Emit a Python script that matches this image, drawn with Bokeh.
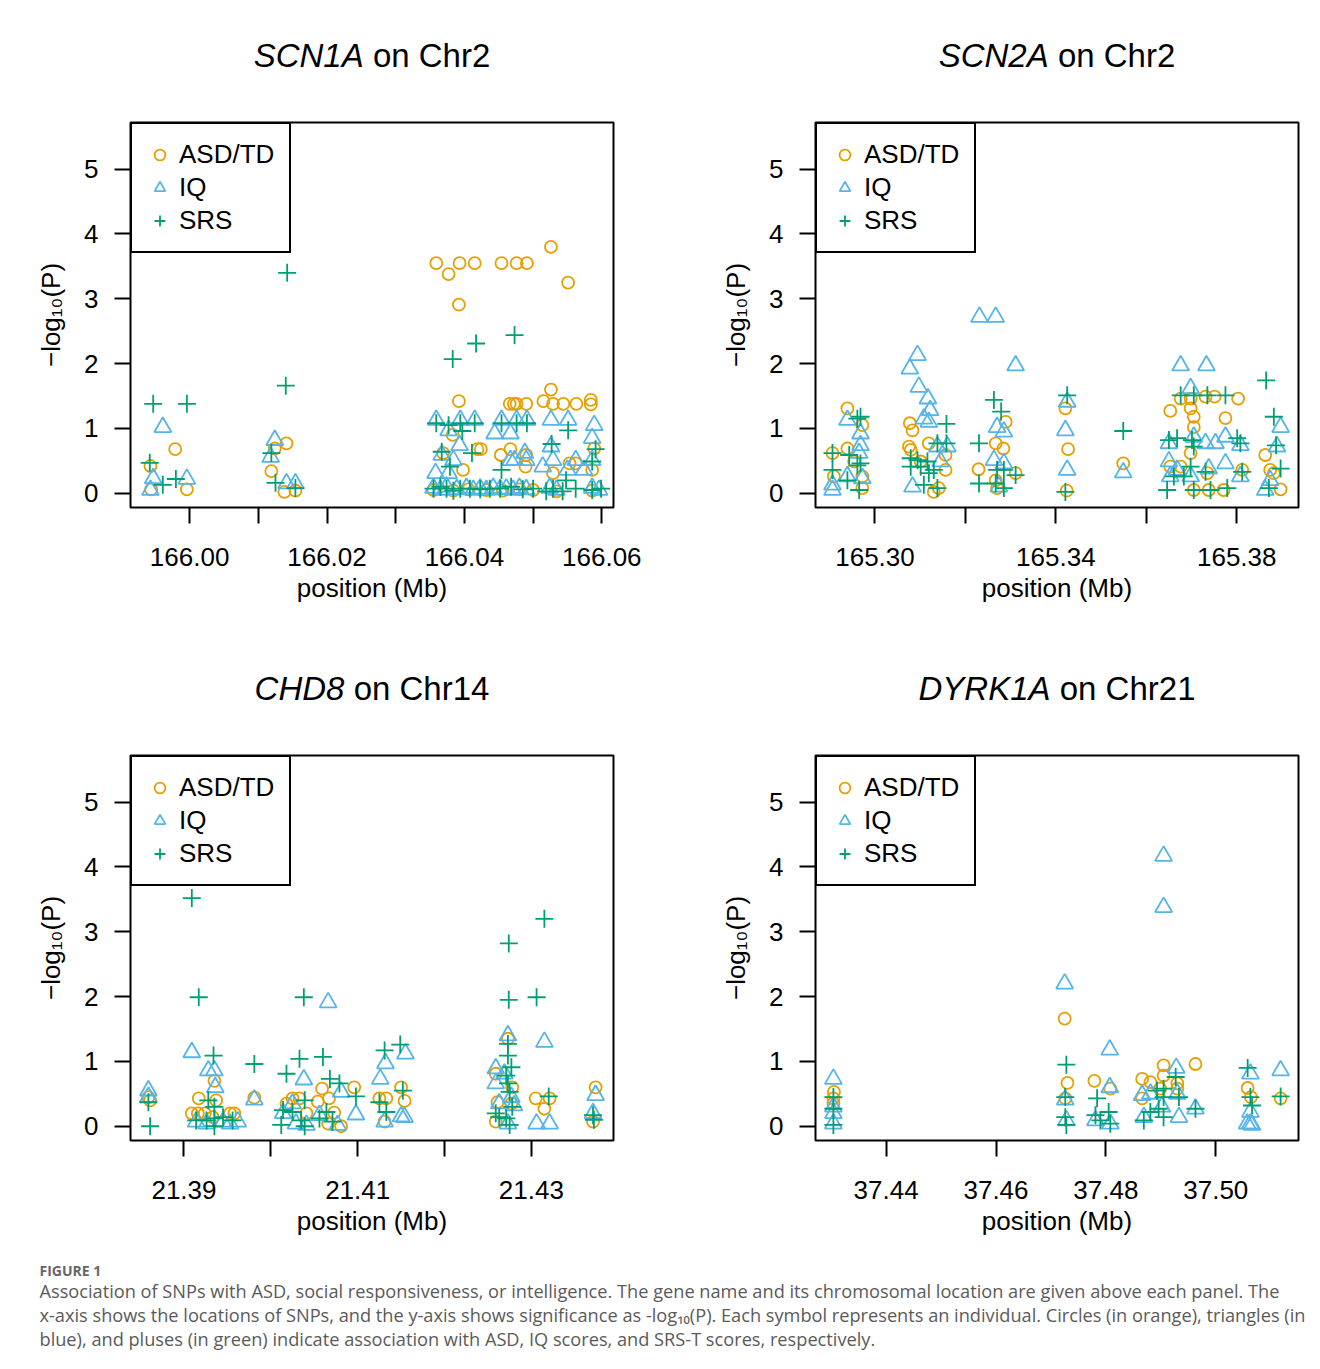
from bokeh.plotting import figure
from bokeh.models import Range1d, FixedTicker, Legend, LegendItem, Label, PrintfTickFormatter
from bokeh.layouts import column, row
from bokeh.embed import file_html
from bokeh.resources import INLINE

ORANGE = "#E69F00"
BLUE = "#56B4E9"
GREEN = "#009E73"
FONT = "Liberation Sans"

LEGEND_LABELS = ["ASD/TD", "IQ", "SRS"]
Y_TICKS = [0, 1, 2, 3, 4, 5]
Y_LIMITS = (0.0, 5.5)

# ---------------- SCN1A (Chr2) ----------------
scn1a_xlim = (165.9940, 166.0591)
scn1a_ticks = [166.00, 166.02, 166.04, 166.06]
scn1a_minor = [166.01, 166.03, 166.05]
scn1a_asd = [
    (165.9943, 0.42), (165.9979, 0.68), (165.9996, 0.06), (165.9944, 0.06),
    (166.0141, 0.77), (166.0119, 0.34), (166.0138, 0.02), (166.0154, 0.04), (166.0124, 0.69),
    (166.0359, 3.55), (166.0377, 3.38), (166.0393, 3.55), (166.0415, 3.55), (166.0454, 3.55),
    (166.0476, 3.55), (166.0491, 3.55), (166.0526, 3.80), (166.0551, 3.25), (166.0392, 2.91),
    (166.0392, 1.42), (166.0526, 1.60),
    (166.0466, 1.38), (166.0472, 1.38), (166.0476, 1.38), (166.0490, 1.38), (166.0515, 1.42),
    (166.0529, 1.38), (166.0544, 1.38), (166.0563, 1.38), (166.0584, 1.44), (166.0584, 1.37),
    (166.0369, 0.62), (166.0383, 0.90), (166.0419, 0.68), (166.0424, 0.68), (166.0453, 0.59),
    (166.0467, 0.68), (166.0490, 0.59), (166.0489, 0.41), (166.0398, 0.36), (166.0553, 0.46),
    (166.0589, 0.69), (166.0586, 0.36), (166.0529, 0.31), (166.0562, 0.46),
    (166.0355, 0.05), (166.0384, 0.04), (166.0406, 0.06), (166.0432, 0.05), (166.0456, 0.04),
    (166.0480, 0.06), (166.0500, 0.05), (166.0534, 0.03), (166.0586, 0.04),
]
scn1a_iq = [
    (165.9961, 1.02), (165.9947, 0.23), (165.9996, 0.22), (165.9943, 0.05),
    (166.0124, 0.82), (166.0118, 0.56), (166.0141, 0.15), (166.0154, 0.15),
    (166.0359, 1.13), (166.0377, 0.97), (166.0394, 1.13), (166.0415, 1.13), (166.0444, 0.92),
    (166.0454, 1.13), (166.0467, 0.92), (166.0476, 1.13), (166.0491, 1.13), (166.0526, 1.13),
    (166.0551, 1.13), (166.0589, 1.05), (166.0586, 0.85), (166.0393, 0.74), (166.0526, 0.72),
    (166.0367, 0.59), (166.0467, 0.51), (166.0473, 0.51), (166.0488, 0.62), (166.0490, 0.51),
    (166.0529, 0.51), (166.0562, 0.51), (166.0514, 0.41), (166.0586, 0.51), (166.0550, 0.36),
    (166.0574, 0.36), (166.0384, 0.51), (166.0358, 0.31), (166.0377, 0.31),
    (166.0355, 0.08), (166.0365, 0.05), (166.0374, 0.10), (166.0389, 0.06), (166.0403, 0.08),
    (166.0413, 0.05), (166.0423, 0.07), (166.0432, 0.05), (166.0442, 0.08), (166.0452, 0.06),
    (166.0461, 0.07), (166.0471, 0.05), (166.0480, 0.08), (166.0490, 0.06), (166.0524, 0.08),
    (166.0534, 0.05), (166.0586, 0.08), (166.0596, 0.05),
]
scn1a_srs = [
    (165.9947, 1.38), (165.9996, 1.38), (165.9942, 0.47), (165.9961, 0.13), (165.9980, 0.22),
    (166.0142, 3.40), (166.0140, 1.66), (166.0119, 0.62), (166.0125, 0.16), (166.0154, 0.08),
    (166.0383, 2.07), (166.0417, 2.31), (166.0473, 2.44),
    (166.0359, 1.08), (166.0377, 1.05), (166.0394, 1.08), (166.0397, 0.96), (166.0415, 1.08),
    (166.0454, 1.08), (166.0476, 1.08), (166.0491, 1.08), (166.0551, 0.97), (166.0411, 0.62),
    (166.0367, 0.64), (166.0527, 0.76), (166.0591, 0.68), (166.0586, 0.49), (166.0379, 0.41),
    (166.0454, 0.36), (166.0548, 0.20),
    (166.0355, 0.07), (166.0365, 0.10), (166.0374, 0.07), (166.0384, 0.04), (166.0394, 0.07),
    (166.0408, 0.07), (166.0423, 0.06), (166.0437, 0.07), (166.0452, 0.07), (166.0468, 0.10),
    (166.0485, 0.06), (166.0500, 0.07), (166.0519, 0.03), (166.0529, 0.07), (166.0543, 0.03),
    (166.0562, 0.07), (166.0586, 0.05), (166.0599, 0.07),
]

# ---------------- SCN2A (Chr2) ----------------
scn2a_xlim = (165.2908, 165.3897)
scn2a_ticks = [165.30, 165.34, 165.38]
scn2a_minor = [165.32, 165.36]
scn2a_asd = [
    (165.2939, 1.31), (165.2972, 1.05), (165.2939, 0.69), (165.2906, 0.62), (165.2909, 0.26),
    (165.2972, 0.26), (165.2954, 0.49), (165.2972, 0.08),
    (165.3077, 1.08), (165.3083, 0.97), (165.3075, 0.72), (165.3079, 0.67), (165.3119, 0.77),
    (165.3156, 0.59), (165.3156, 0.36), (165.3130, 0.02), (165.3141, 0.08), (165.3101, 0.49),
    (165.3289, 1.10), (165.3267, 0.77), (165.3284, 0.69), (165.3229, 0.37), (165.3267, 0.20),
    (165.3270, 0.08), (165.3311, 0.31),
    (165.3421, 1.31), (165.3427, 0.68), (165.3424, 0.04),
    (165.3549, 0.46),
    (165.3653, 1.27), (165.3676, 1.46), (165.3698, 1.46), (165.3731, 1.49), (165.3751, 1.49),
    (165.3803, 1.46), (165.3698, 1.31), (165.3705, 1.18), (165.3705, 1.02), (165.3775, 1.16),
    (165.3698, 0.62), (165.3653, 0.41), (165.3676, 0.41), (165.3735, 0.31), (165.3812, 0.36),
    (165.3705, 0.05), (165.3738, 0.05), (165.3771, 0.05),
    (165.3863, 0.59), (165.3874, 0.36), (165.3897, 0.06), (165.3882, 0.31),
]
scn2a_iq = [
    (165.2939, 1.13), (165.2968, 0.92), (165.2968, 0.74), (165.2965, 0.62), (165.2906, 0.13),
    (165.2906, 0.05), (165.2939, 0.26), (165.2972, 0.23),
    (165.3094, 2.13), (165.3077, 1.92), (165.3097, 1.64), (165.3117, 1.46), (165.3122, 1.28),
    (165.3108, 1.15), (165.3119, 1.10), (165.3083, 0.10), (165.3138, 0.72), (165.3160, 0.72),
    (165.3145, 0.49),
    (165.3231, 2.72), (165.3267, 2.72), (165.3311, 1.97), (165.3270, 1.02), (165.3285, 0.95),
    (165.3263, 0.51), (165.3285, 0.46), (165.3274, 0.10),
    (165.3425, 1.41), (165.3421, 0.97), (165.3425, 0.36),
    (165.3549, 0.32),
    (165.3676, 1.97), (165.3733, 1.97), (165.3698, 1.62), (165.3650, 0.77), (165.3705, 0.87),
    (165.3731, 0.77), (165.3753, 0.77), (165.3775, 0.87), (165.3808, 0.74), (165.3650, 0.49),
    (165.3668, 0.36), (165.3698, 0.26), (165.3738, 0.38), (165.3775, 0.46), (165.3808, 0.26),
    (165.3653, 0.26),
    (165.3897, 1.02), (165.3889, 0.72), (165.3874, 0.20), (165.3863, 0.05),
]
scn2a_srs = [
    (165.2961, 1.15), (165.2968, 1.18), (165.2906, 0.62), (165.2943, 0.59), (165.2906, 0.36),
    (165.2968, 0.46), (165.2939, 0.20), (165.2965, 0.05), (165.2961, 0.43),
    (165.3158, 1.07), (165.3138, 0.77), (165.3158, 0.77), (165.3079, 0.54), (165.3094, 0.51),
    (165.3116, 0.49), (165.3079, 0.41), (165.3101, 0.41), (165.3119, 0.31), (165.3108, 0.13),
    (165.3138, 0.08), (165.3130, 0.36),
    (165.3263, 1.44), (165.3279, 1.26), (165.3230, 0.77), (165.3230, 0.15), (165.3270, 0.36),
    (165.3285, 0.36), (165.3311, 0.28), (165.3267, 0.15), (165.3285, 0.08),
    (165.3425, 1.51), (165.3421, 0.02),
    (165.3549, 0.96),
    (165.3676, 1.51), (165.3705, 1.51), (165.3735, 1.51), (165.3775, 1.51), (165.3650, 0.82),
    (165.3668, 0.85), (165.3701, 0.82), (165.3705, 0.72), (165.3801, 0.85), (165.3808, 0.77),
    (165.3698, 0.41), (165.3661, 0.26), (165.3646, 0.05), (165.3683, 0.26), (165.3731, 0.33),
    (165.3705, 0.05), (165.3742, 0.05), (165.3779, 0.08), (165.3812, 0.33),
    (165.3865, 1.74), (165.3882, 1.18), (165.3887, 0.74), (165.3897, 0.38), (165.3871, 0.08),
]

# ---------------- CHD8 (Chr14) ----------------
chd8_xlim = (21.3859, 21.4374)
chd8_ticks = [21.39, 21.41, 21.43]
chd8_minor = [21.40, 21.42]
chd8_asd = [
    (21.3859, 0.45), (21.3861, 0.40),
    (21.3935, 0.70), (21.3917, 0.43), (21.3909, 0.20), (21.3916, 0.20), (21.3924, 0.20),
    (21.3937, 0.40), (21.3958, 0.20), (21.3953, 0.20), (21.3981, 0.44), (21.3933, 0.14),
    (21.4059, 0.58), (21.4067, 0.43), (21.4096, 0.60), (21.4054, 0.38), (21.4025, 0.43),
    (21.4033, 0.43), (21.4018, 0.35), (21.4041, 0.20), (21.4073, 0.21), (21.4081, 0.00),
    (21.4066, 0.04),
    (21.4125, 0.43), (21.4133, 0.43), (21.4150, 0.60), (21.4154, 0.39), (21.4131, 0.07),
    (21.4273, 1.35), (21.4259, 0.81), (21.4278, 0.60), (21.4261, 0.37), (21.4259, 0.07),
    (21.4277, 0.35),
    (21.4305, 0.43), (21.4315, 0.27), (21.4321, 0.43),
    (21.4374, 0.60), (21.4371, 0.07),
]
chd8_iq = [
    (21.3859, 0.55), (21.3859, 0.45),
    (21.3909, 1.14), (21.3928, 0.86), (21.3935, 0.86), (21.3936, 0.60), (21.3981, 0.41),
    (21.3914, 0.07), (21.3926, 0.04), (21.3945, 0.07), (21.3962, 0.07), (21.3953, 0.04),
    (21.4066, 1.91), (21.4038, 0.72), (21.4081, 0.53), (21.4098, 0.18), (21.4014, 0.20),
    (21.4025, 0.35), (21.4029, 0.04), (21.4041, 0.02), (21.4056, 0.17), (21.4077, 0.02),
    (21.4132, 0.97), (21.4155, 1.12), (21.4126, 0.73), (21.4150, 0.15), (21.4131, 0.07),
    (21.4154, 0.14),
    (21.4273, 1.40), (21.4259, 0.89), (21.4269, 0.81), (21.4259, 0.66), (21.4277, 0.45),
    (21.4280, 0.32), (21.4273, 0.04), (21.4263, 0.35),
    (21.4315, 1.30), (21.4306, 0.04), (21.4321, 0.04),
    (21.4374, 0.48), (21.4371, 0.20),
]
chd8_srs = [
    (21.3859, 0.37), (21.3861, 0.00),
    (21.3909, 3.52), (21.3917, 1.99), (21.3934, 1.09), (21.3981, 0.96), (21.3928, 0.40),
    (21.3935, 0.30), (21.3914, 0.09), (21.3926, 0.09), (21.3935, 0.12), (21.3945, 0.14),
    (21.3956, 0.09), (21.3935, 0.00),
    (21.4038, 1.99), (21.4033, 1.04), (21.4060, 1.07), (21.4018, 0.81), (21.4068, 0.73),
    (21.4079, 0.66), (21.4098, 0.46), (21.4039, 0.40), (21.4014, 0.25), (21.4025, 0.22),
    (21.4064, 0.22), (21.4035, 0.09), (21.4056, 0.12), (21.4012, 0.02), (21.4071, 0.07),
    (21.4039, 0.00),
    (21.4131, 1.17), (21.4149, 1.26), (21.4152, 0.55), (21.4125, 0.37), (21.4133, 0.22),
    (21.4274, 2.82), (21.4274, 1.95), (21.4273, 1.27), (21.4273, 1.09), (21.4277, 0.91),
    (21.4271, 0.78), (21.4273, 0.66), (21.4275, 0.53), (21.4278, 0.30), (21.4263, 0.14),
    (21.4271, 0.12), (21.4275, 0.02), (21.4259, 0.20),
    (21.4315, 3.20), (21.4306, 1.99), (21.4320, 0.46),
    (21.4371, 0.17), (21.4372, 0.10),
]

# ---------------- DYRK1A (Chr21) ----------------
dyrk1a_xlim = (37.4304, 37.5118)
dyrk1a_ticks = [37.44, 37.46, 37.48, 37.50]
dyrk1a_minor = []
dyrk1a_asd = [
    (37.4305, 0.53), (37.4304, 0.43), (37.4304, 0.35),
    (37.4725, 1.66), (37.4730, 0.67), (37.4726, 0.43),
    (37.4779, 0.70), (37.4808, 0.58),
    (37.4866, 0.73), (37.4881, 0.68), (37.4905, 0.94), (37.4905, 0.78), (37.4930, 0.66),
    (37.4930, 0.58), (37.4963, 0.96), (37.4866, 0.43), (37.4899, 0.58),
    (37.5058, 0.59), (37.5064, 0.45), (37.5118, 0.43),
]
dyrk1a_iq = [
    (37.4304, 0.73), (37.4304, 0.30), (37.4304, 0.20), (37.4304, 0.04),
    (37.4725, 2.20), (37.4726, 0.41), (37.4728, 0.09),
    (37.4807, 1.18), (37.4807, 0.60), (37.4781, 0.09), (37.4808, 0.04),
    (37.4905, 4.17), (37.4905, 3.38), (37.4866, 0.48), (37.4881, 0.50), (37.4928, 0.90),
    (37.4930, 0.50), (37.4902, 0.30), (37.4933, 0.14), (37.4963, 0.27), (37.4869, 0.14),
    (37.5063, 0.81), (37.5118, 0.86), (37.5063, 0.22), (37.5063, 0.04), (37.5066, 0.02),
    (37.5057, 0.04),
]
dyrk1a_srs = [
    (37.4304, 0.45), (37.4304, 0.27), (37.4304, 0.02),
    (37.4728, 0.95), (37.4726, 0.45), (37.4726, 0.14), (37.4728, 0.02),
    (37.4784, 0.43), (37.4781, 0.17), (37.4805, 0.22), (37.4808, 0.04), (37.4790, 0.09),
    (37.4927, 0.76), (37.4905, 0.58), (37.4893, 0.55), (37.4933, 0.45), (37.4905, 0.45),
    (37.4881, 0.22), (37.4869, 0.09), (37.4905, 0.14), (37.4896, 0.27), (37.4963, 0.27),
    (37.5058, 0.90), (37.5063, 0.45), (37.5066, 0.32), (37.5118, 0.46),
]

CAPTION_HEAD = "FIGURE 1"
CAPTION_LINES = [
    "Association of SNPs with ASD, social responsiveness, or intelligence. The gene name and its chromosomal location are given above each panel. The",
    "x-axis shows the locations of SNPs, and the y-axis shows significance as -log\u2081\u2080(P). Each symbol represents an individual. Circles (in orange), triangles (in",
    "blue), and pluses (in green) indicate association with ASD, IQ scores, and SRS-T scores, respectively.",
]

PAGE_W = 1312
TITLE_FS = 33
SPACE_EM = 0.278


def pad_range(lo, hi, frac=0.04):
    d = hi - lo
    return lo - frac * d, hi + frac * d


def make_panel(xlim, ticks, minor, asd, iq, srs, width, height, b_left, b_right, b_top, b_bottom):
    x0, x1 = pad_range(*xlim)
    y0, y1 = pad_range(*Y_LIMITS)
    p = figure(width=width, height=height, x_range=Range1d(x0, x1), y_range=Range1d(y0, y1),
               output_backend="svg", toolbar_location=None,
               min_border_left=b_left, min_border_right=b_right,
               min_border_top=b_top, min_border_bottom=b_bottom)
    p.grid.visible = False
    p.outline_line_color = "black"
    p.outline_line_width = 2
    p.outline_line_alpha = 1
    p.background_fill_color = "white"
    p.border_fill_color = "white"

    xa = p.xaxis[0]
    ya = p.yaxis[0]
    xa.ticker = FixedTicker(ticks=ticks, minor_ticks=minor)
    xa.formatter = PrintfTickFormatter(format="%.2f")
    ya.ticker = FixedTicker(ticks=Y_TICKS, minor_ticks=[])
    for ax in (xa, ya):
        ax.axis_line_color = None
        ax.major_tick_out = 16
        ax.major_tick_in = 0
        ax.major_tick_line_width = 2
        ax.major_tick_line_color = "black"
        ax.minor_tick_out = 16
        ax.minor_tick_in = 0
        ax.minor_tick_line_width = 2
        ax.minor_tick_line_color = "black"
        ax.major_label_text_font = FONT
        ax.major_label_text_font_size = "26px"
        ax.major_label_text_color = "black"
        ax.axis_label_text_font = FONT
        ax.axis_label_text_font_size = "26px"
        ax.axis_label_text_font_style = "normal"
        ax.axis_label_text_color = "black"
    xa.axis_label = "position (Mb)"
    ya.axis_label = "\u2212log\u2081\u2080(P)"
    xa.major_label_standoff = 24
    xa.axis_label_standoff = 4
    ya.major_label_standoff = 16
    ya.axis_label_standoff = 15
    ya.major_label_orientation = "horizontal"

    series = [
        (asd, "circle", 12, ORANGE),
        (iq, "triangle", 17, BLUE),
        (srs, "cross", 18, GREEN),
    ]
    renderers = []
    for pts, marker, size, color in series:
        xs = [a for a, b in pts]
        ys = [b for a, b in pts]
        r = p.scatter(x=xs, y=ys, marker=marker, size=size, fill_color=None,
                      line_color=color, line_width=1.8)
        renderers.append(r)

    legend = Legend(
        items=[LegendItem(label=lab, renderers=[r]) for lab, r in zip(LEGEND_LABELS, renderers)],
        location="top_left", margin=0, padding=14, spacing=0,
        glyph_width=27, glyph_height=33, label_height=33, label_width=96, label_standoff=6,
        label_text_font=FONT, label_text_font_size="26px", label_text_color="black",
        border_line_color="black", border_line_width=2, border_line_alpha=1,
        background_fill_color="white", background_fill_alpha=1,
    )
    p.add_layout(legend)
    return p


def make_title_row(titles, height, baseline):
    t = figure(width=PAGE_W, height=height, x_range=Range1d(0, PAGE_W), y_range=Range1d(0, height),
               output_backend="svg", toolbar_location=None, min_border=0,
               x_axis_location=None, y_axis_location=None)
    t.outline_line_color = None
    t.grid.visible = False
    for gene, chrom, gene_em, chrom_em, center in titles:
        total = (gene_em + SPACE_EM + chrom_em) * TITLE_FS
        split = center - total / 2 + gene_em * TITLE_FS
        t.add_layout(Label(x=split, y=baseline, x_units="screen", y_units="screen", text=gene,
                           text_align="right", text_baseline="alphabetic", text_font=FONT,
                           text_font_size=f"{TITLE_FS}px", text_font_style="italic",
                           text_color="black"))
        t.add_layout(Label(x=split + SPACE_EM * TITLE_FS, y=baseline, x_units="screen",
                           y_units="screen", text=chrom, text_align="left",
                           text_baseline="alphabetic", text_font=FONT,
                           text_font_size=f"{TITLE_FS}px", text_font_style="normal",
                           text_color="black"))
    return t


LEFT_CENTER = 130 + 483 / 2
RIGHT_CENTER = 815 + 483 / 2

t1 = make_title_row([("SCN1A", "on Chr2", 3.334, 3.557, LEFT_CENTER),
                     ("SCN2A", "on Chr2", 3.334, 3.557, RIGHT_CENTER)], 90, 35)
p1 = make_panel(scn1a_xlim, scn1a_ticks, scn1a_minor, scn1a_asd, scn1a_iq, scn1a_srs,
                693, 551, 130, 80, 32, 134)
p2 = make_panel(scn2a_xlim, scn2a_ticks, scn2a_minor, scn2a_asd, scn2a_iq, scn2a_srs,
                619, 551, 122, 14, 32, 134)
t2 = make_title_row([("CHD8", "on Chr14", 2.722, 4.113, LEFT_CENTER),
                     ("DYRK1A", "on Chr21", 4.001, 4.113, RIGHT_CENTER)], 82, 35)
p3 = make_panel(chd8_xlim, chd8_ticks, chd8_minor, chd8_asd, chd8_iq, chd8_srs,
                693, 527, 130, 80, 32, 110)
p4 = make_panel(dyrk1a_xlim, dyrk1a_ticks, dyrk1a_minor, dyrk1a_asd, dyrk1a_iq, dyrk1a_srs,
                619, 527, 122, 14, 32, 110)

CAP_H = 108
cap = figure(width=PAGE_W, height=CAP_H, x_range=Range1d(0, PAGE_W), y_range=Range1d(0, CAP_H),
             output_backend="svg", toolbar_location=None, min_border=0,
             x_axis_location=None, y_axis_location=None)
cap.outline_line_color = None
cap.grid.visible = False
cap.add_layout(Label(x=39, y=CAP_H - 20, x_units="screen", y_units="screen", text=CAPTION_HEAD,
                     text_font="Open Sans", text_font_size="14px", text_font_style="bold",
                     text_color="#666666", text_baseline="alphabetic"))
for i, line in enumerate(CAPTION_LINES):
    cap.add_layout(Label(x=39, y=CAP_H - 40 - 24 * i, x_units="screen", y_units="screen", text=line,
                         text_font="Open Sans", text_font_size="18.2px", text_color="#5a5a5a",
                         text_baseline="alphabetic"))

layout = column(t1, row(p1, p2), t2, row(p3, p4), cap)
open("out.html", "w").write(file_html(layout, INLINE))
